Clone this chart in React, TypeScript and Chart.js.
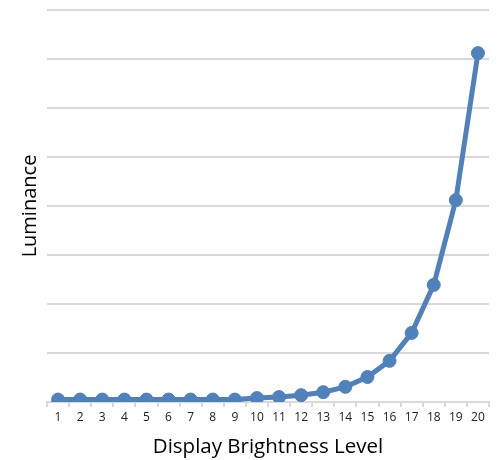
import React, { useEffect, useRef } from "react";
import { Chart, registerables } from "chart.js";

Chart.register(...registerables);

const levels: string[] = ["1","2","3","4","5","6","7","8","9","10","11","12","13","14","15","16","17","18","19","20"];
const luminance: number[] = [0.05,0.05,0.05,0.05,0.05,0.05,0.05,0.05,0.05,0.08,0.1,0.14,0.2,0.31,0.51,0.84,1.41,2.39,4.12,7.12];
const yMin = 0;
const yMax = 8;
const yStep = 1;
const xTitle = "Display Brightness Level";
const yTitle = "Luminance";

const FONT = "'Open Sans', Lato, sans-serif";

export default function App() {
  const ref = useRef<HTMLCanvasElement | null>(null);
  useEffect(() => {
    if (!ref.current) return;
    const chart = new Chart(ref.current, {
      type: "line",
      data: {
        labels: levels,
        datasets: [
          {
            data: luminance,
            borderColor: "#4f81bd",
            backgroundColor: "#4f81bd",
            borderWidth: 5,
            pointRadius: 6.5,
            pointBorderWidth: 1,
            pointBackgroundColor: "#4f81bd",
            pointBorderColor: "#4f81bd",
            tension: 0,
          },
        ],
      },
      options: {
        animation: false,
        responsive: false,
        maintainAspectRatio: false,
        layout: { padding: { top: 10, right: 8, left: 0, bottom: 0 } },
        plugins: { legend: { display: false }, tooltip: { enabled: false } },
        scales: {
          x: {
            offset: true,
            grid: {
              offset: true,
              drawOnChartArea: false,
              drawTicks: true,
              tickLength: 5,
              color: "#d9d9d9",
              lineWidth: 2,
            },
            border: { display: true, color: "#d9d9d9", width: 2 },
            ticks: {
              color: "#222222",
              font: { family: FONT, size: 12 },
              padding: 3,
              maxRotation: 0,
              autoSkip: false,
            },
            title: {
              display: true,
              text: xTitle,
              color: "#000000",
              font: { family: FONT, size: 20.5 },
              padding: { top: 0, bottom: 1 },
            },
            afterFit: (axis: any) => {
              axis.height = 58;
            },
          },
          y: {
            min: yMin,
            max: yMax,
            ticks: { stepSize: yStep, display: false },
            grid: { color: "#d9d9d9", lineWidth: 2, drawTicks: false },
            border: { display: false },
            title: {
              display: true,
              text: yTitle,
              color: "#000000",
              font: { family: FONT, size: 20 },
              padding: { top: 18, bottom: 0 },
            },
            afterFit: (axis: any) => {
              axis.width = 47;
            },
          },
        },
      },
    });
    return () => chart.destroy();
  }, []);
  return (
    <div style={{ position: "fixed", left: 0, top: 0, width: 497, height: 460, background: "#fff" }}>
      <canvas ref={ref} width={497} height={460} style={{ width: 497, height: 460 }} />
    </div>
  );
}
